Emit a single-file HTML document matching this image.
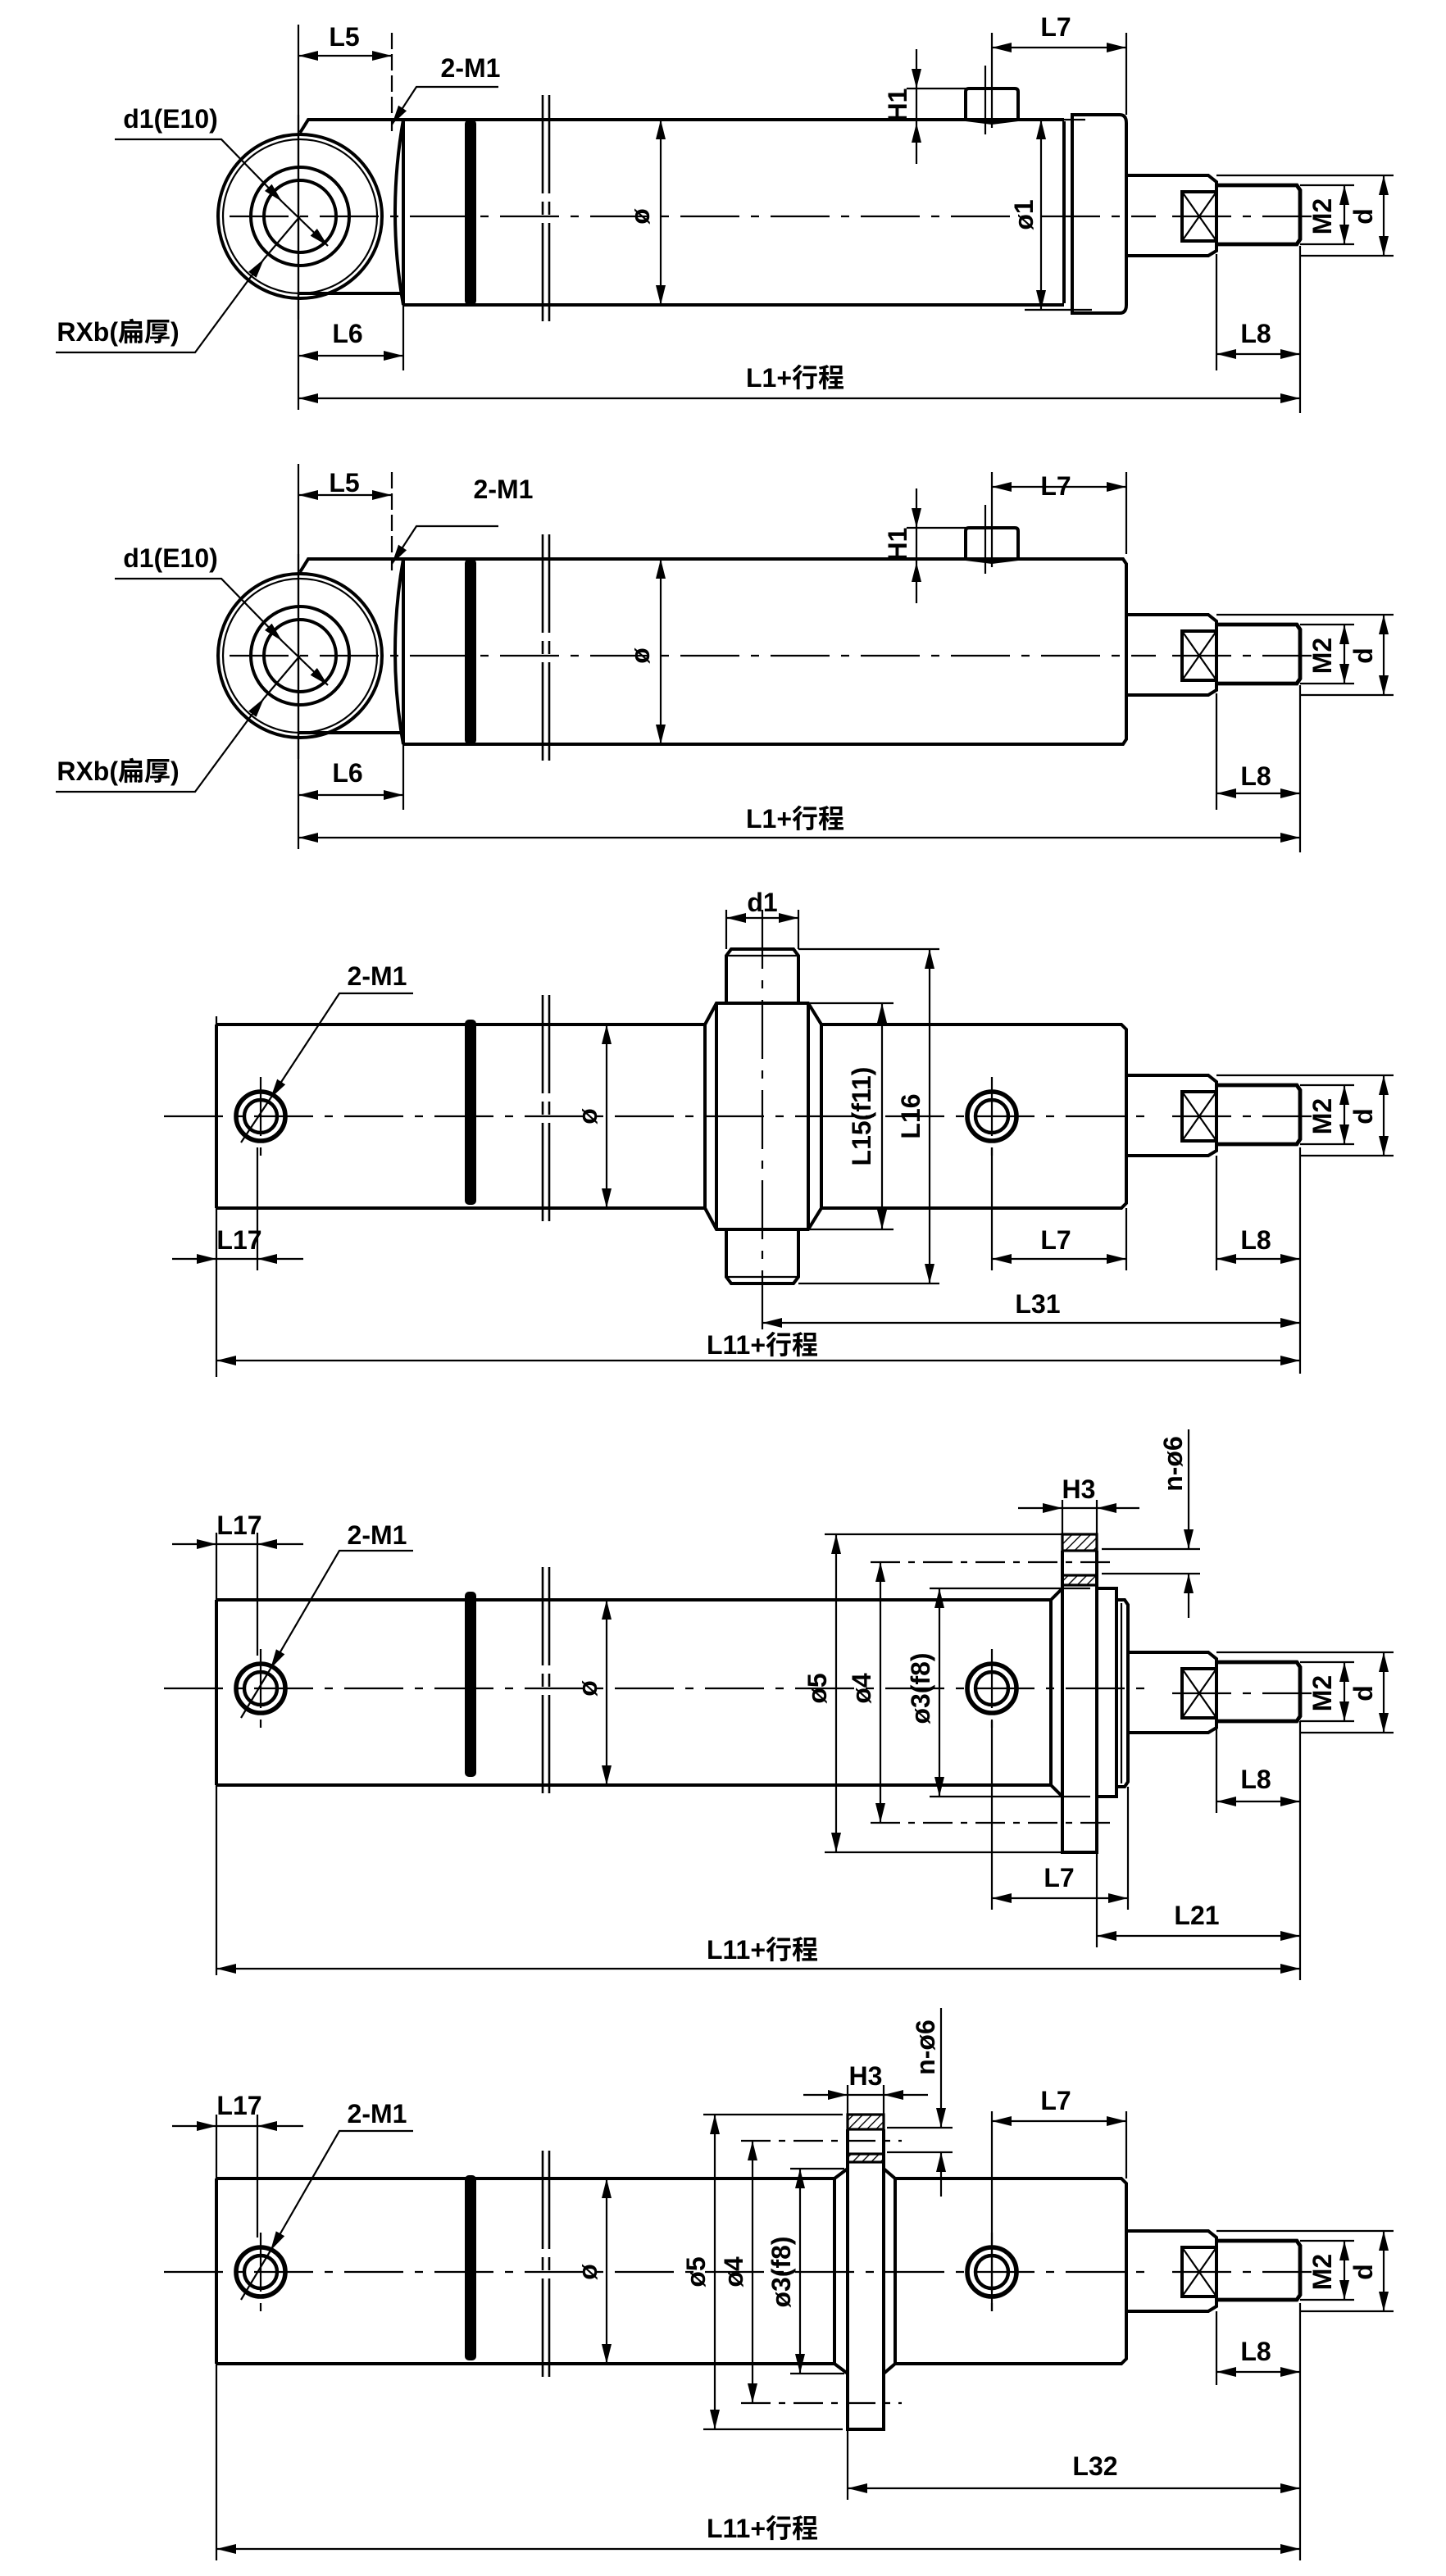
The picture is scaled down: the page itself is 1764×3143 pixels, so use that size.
<!DOCTYPE html>
<html><head><meta charset="utf-8">
<style>
html,body{margin:0;padding:0;background:#fff;}
svg{display:block;}
text{font-family:"Liberation Sans","Noto Sans CJK SC",sans-serif;font-weight:bold;font-size:16px;fill:#000;}
.o{stroke:#000;stroke-width:2;fill:none;}
.t{stroke:#000;stroke-width:1.1;fill:none;}
.c{stroke:#000;stroke-width:1.1;fill:none;stroke-dasharray:36 7 5 7;}
.dd{stroke:#000;stroke-width:1.1;fill:none;stroke-dasharray:18 5 4 5;}
.d{stroke:#000;stroke-width:1.1;fill:none;marker-start:url(#a);marker-end:url(#a);}
.e{stroke:#000;stroke-width:1.1;fill:none;marker-end:url(#a);}
</style></head><body>
<svg width="1764" height="3143" viewBox="0 0 882 1571.5" preserveAspectRatio="none" xmlns="http://www.w3.org/2000/svg">
<defs>
<marker id="a" markerUnits="userSpaceOnUse" markerWidth="12" markerHeight="6" refX="12" refY="3" orient="auto-start-reverse"><path d="M0,0 L12,3 L0,6 z" fill="#000"/></marker>
<pattern id="h" width="4" height="4" patternUnits="userSpaceOnUse" patternTransform="rotate(45)"><line x1="0" y1="0" x2="0" y2="4" stroke="#000" stroke-width="1.4"/></pattern>
<g id="rod">
<path class="o" d="M687,-25 L737,-25 L742,-21 L742,21 L737,24 L687,24"/>
<path d="M742,-19 L791,-19 L793,-16 L793,14 L791,17 L742,17" stroke="#000" stroke-width="2.4" fill="none"/>
<rect class="o" x="721" y="-15" width="21" height="30"/>
<path class="t" d="M721,-15 L742,15 M742,-15 L721,15"/>
<path class="t" d="M742,-25 L850,-25 M793,24 L850,24 M793,-19 L826,-19 M793,17 L826,17"/>
<line class="d" x1="844" y1="-25" x2="844" y2="24"/>
<line class="d" x1="820" y1="-19" x2="820" y2="17"/>
<line class="c" x1="715" y1="0" x2="800" y2="0"/>
</g>
<g id="port">
<circle cx="0" cy="0" r="15" stroke="#000" stroke-width="2.8" fill="none"/>
<circle cx="0" cy="0" r="10" stroke="#000" stroke-width="2.2" fill="none"/>
<line class="c" x1="0" y1="-24" x2="0" y2="24"/>
</g>
<g id="brk">
<line stroke="#000" stroke-width="1.3" stroke-dasharray="60 5 8 5" x1="331" y1="-74" x2="331" y2="66"/>
<line stroke="#000" stroke-width="1.3" stroke-dasharray="60 5 8 5" x1="335" y1="-74" x2="335" y2="66"/>
<rect x="283.5" y="-59" width="7" height="113" rx="2.5" fill="#000"/>
</g>
<g id="eyeview">
<line class="t" x1="182" y1="15" x2="182" y2="250"/>
<line class="t" x1="239" y1="20" x2="239" y2="80" stroke-dasharray="10 3"/>
<line class="d" x1="182" y1="34" x2="239" y2="34"/>
<path class="o" d="M183,81 L188,73 L246,73 M246,73 Q236,130 246,186 M182,179 L245,179"/>
<circle cx="183" cy="132" r="50" class="o"/>
<circle cx="183" cy="132" r="47" class="t"/>
<circle cx="183" cy="132" r="30" class="o"/>
<circle cx="183" cy="132" r="22" class="o"/>
<path class="t" d="M182,70 L182,195"/>
<path class="e" d="M304,53 L254,53 L239,76"/>
<path class="e" d="M70,85 L135,85 L172,123"/>
<path class="e" d="M172,123 L200,150"/>
<path class="e" d="M34,215 L119,215 L161,158"/>
<line class="t" x1="161" y1="158" x2="183" y2="132"/>
<path class="o" d="M246,73 L246,186"/>
<use href="#brk" y="132"/>
<line class="d" x1="403" y1="73" x2="403" y2="186"/>
<line class="c" x1="140" y1="132" x2="705" y2="132"/>
<path class="o" d="M589,73 L589,56 Q589,54 591,54 L619,54 Q621,54 621,56 L621,73 L605,75 Z"/>
<line class="t" x1="601" y1="40" x2="601" y2="82"/>
<path class="t" d="M553,54 L589,54"/>
<line class="e" x1="559" y1="30" x2="559" y2="54"/>
<line class="e" x1="559" y1="100" x2="559" y2="75"/>
<line class="t" x1="559" y1="54" x2="559" y2="75"/>
<line class="t" x1="605" y1="20" x2="605" y2="78"/>
<line class="t" x1="687" y1="20" x2="687" y2="70"/>
<line class="d" x1="605" y1="29" x2="687" y2="29"/>
<line class="t" x1="246" y1="186" x2="246" y2="226"/>
<line class="d" x1="182" y1="217" x2="246" y2="217"/>
<line class="t" x1="742" y1="155" x2="742" y2="226"/>
<line class="t" x1="793" y1="150" x2="793" y2="252"/>
<line class="d" x1="742" y1="216" x2="793" y2="216"/>
<line class="d" x1="182" y1="243" x2="793" y2="243"/>
<use href="#rod" y="132"/>
</g>
</defs>

<use href="#eyeview"/>
<path class="o" d="M246,73 L649,73 M246,186 L649,186"/>
<path class="o" d="M649,74 L649,185"/>
<path class="o" d="M654,70 L683,70 Q687,70 687,75 L687,186 Q687,191 683,191 L654,191 Z"/>
<path class="t" d="M630,73 L662,73 M625,189 L666,189"/>
<line class="d" x1="635" y1="73" x2="635" y2="189"/>
<text x="210" y="28" text-anchor="middle">L5</text>
<text x="287" y="47" text-anchor="middle">2-M1</text>
<text x="104" y="78" text-anchor="middle">d1(E10)</text>
<text x="72" y="208" text-anchor="middle">RXb(扁厚)</text>
<text x="212" y="209" text-anchor="middle">L6</text>
<text x="766" y="209" text-anchor="middle">L8</text>
<text x="485" y="236" text-anchor="middle">L1+行程</text>
<text x="644" y="22" text-anchor="middle">L7</text>
<text transform="translate(553,64) rotate(-90)" text-anchor="middle">H1</text>
<text transform="translate(396,132) rotate(-90)" text-anchor="middle">ø</text>
<text transform="translate(630,131) rotate(-90)" text-anchor="middle">ø1</text>
<text transform="translate(812,132) rotate(-90)" text-anchor="middle">M2</text>
<text transform="translate(837,132) rotate(-90)" text-anchor="middle">d</text>

<g transform="translate(0,268)">
<use href="#eyeview"/>
<path class="o" d="M246,73 L685,73 L687,76 L687,183 L685,186 L246,186"/>
<text x="210" y="32" text-anchor="middle">L5</text>
<text x="307" y="36" text-anchor="middle">2-M1</text>
<text x="104" y="78" text-anchor="middle">d1(E10)</text>
<text x="72" y="208" text-anchor="middle">RXb(扁厚)</text>
<text x="212" y="209" text-anchor="middle">L6</text>
<text x="766" y="211" text-anchor="middle">L8</text>
<text x="485" y="237" text-anchor="middle">L1+行程</text>
<text x="644" y="34" text-anchor="middle">L7</text>
<text transform="translate(553,64) rotate(-90)" text-anchor="middle">H1</text>
<text transform="translate(396,132) rotate(-90)" text-anchor="middle">ø</text>
<text transform="translate(812,132) rotate(-90)" text-anchor="middle">M2</text>
<text transform="translate(837,132) rotate(-90)" text-anchor="middle">d</text>
</g>

<g>
<path class="o" d="M132,625 L430,625 M132,737 L430,737 M132,625 L132,737"/>
<path class="o" d="M501,625 L684,625 L687,628 L687,734 L684,737 L501,737"/>
<path class="o" d="M430,625 L437,612 L493,612 L501,625 L501,737 L493,750 L437,750 L430,737 Z M437,612 L437,750 M493,612 L493,750"/>
<path class="o" d="M443,612 L443,583 L446,579 L484,579 L487,583 L487,612 M443,750 L443,779 L446,783 L484,783 L487,779 L487,750"/>
<path class="t" d="M443,583 L487,583 M443,779 L487,779"/>
<line class="c" x1="465" y1="555" x2="465" y2="812"/>
<use href="#brk" y="681"/>
<line class="d" x1="370" y1="625" x2="370" y2="737"/>
<line class="c" x1="100" y1="681" x2="705" y2="681"/>
<use href="#port" x="159" y="681"/>
<use href="#port" x="605" y="681"/>
<path class="t" d="M443,555 L443,579 M487,555 L487,579"/>
<line class="d" x1="443" y1="560" x2="487" y2="560"/>
<path class="t" d="M494,612 L545,612 M494,750 L545,750 M487,579 L573,579 M487,783 L573,783"/>
<line class="d" x1="538" y1="612" x2="538" y2="750"/>
<line class="d" x1="567" y1="579" x2="567" y2="783"/>
<path class="e" d="M252,606 L207,606 L165,670"/>
<line class="t" x1="165" y1="670" x2="147" y2="697"/>
<line class="t" x1="132" y1="620" x2="132" y2="840"/>
<line class="t" x1="157" y1="700" x2="157" y2="775"/>
<line class="e" x1="105" y1="768" x2="132" y2="768"/>
<line class="e" x1="185" y1="768" x2="157" y2="768"/>
<line class="t" x1="132" y1="768" x2="157" y2="768"/>
<line class="t" x1="605" y1="700" x2="605" y2="775"/>
<line class="t" x1="687" y1="737" x2="687" y2="775"/>
<line class="d" x1="605" y1="768" x2="687" y2="768"/>
<line class="t" x1="742" y1="705" x2="742" y2="775"/>
<line class="t" x1="793" y1="700" x2="793" y2="838"/>
<line class="d" x1="742" y1="768" x2="793" y2="768"/>
<line class="d" x1="465" y1="807" x2="793" y2="807"/>
<line class="d" x1="132" y1="830" x2="793" y2="830"/>
<use href="#rod" y="681"/>
<text x="465" y="556" text-anchor="middle">d1</text>
<text x="230" y="601" text-anchor="middle">2-M1</text>
<text x="146" y="762" text-anchor="middle">L17</text>
<text x="644" y="762" text-anchor="middle">L7</text>
<text x="766" y="762" text-anchor="middle">L8</text>
<text x="633" y="801" text-anchor="middle">L31</text>
<text x="465" y="826" text-anchor="middle">L11+行程</text>
<text transform="translate(531,681) rotate(-90)" text-anchor="middle">L15(f11)</text>
<text transform="translate(561,681) rotate(-90)" text-anchor="middle">L16</text>
<text transform="translate(364,681) rotate(-90)" text-anchor="middle">ø</text>
<text transform="translate(812,681) rotate(-90)" text-anchor="middle">M2</text>
<text transform="translate(837,681) rotate(-90)" text-anchor="middle">d</text>
</g>

<g>
<path class="o" d="M132,976 L641,976 L648,969 M132,1089 L641,1089 L648,1096 M132,976 L132,1089 M641,976 L641,1089"/>
<rect x="648" y="936" width="21" height="10" fill="url(#h)" stroke="#000" stroke-width="1.6"/>
<rect x="648" y="961" width="21" height="6" fill="url(#h)" stroke="#000" stroke-width="1.6"/>
<path class="o" d="M648,946 L648,1130 L669,1130 L669,946"/>
<path class="o" d="M669,969 L681,969 L681,1096 L669,1096"/>
<path class="o" d="M681,976 L686,976 L688,979 L688,1087 L686,1090 L681,1090"/>
<line class="t" x1="684" y1="978" x2="684" y2="1088"/>
<use href="#brk" y="1030"/>
<line class="d" x1="370" y1="976" x2="370" y2="1089"/>
<line class="c" x1="100" y1="1030" x2="705" y2="1030"/>
<use href="#port" x="159" y="1030"/>
<use href="#port" x="605" y="1030"/>
<path class="t" d="M503,936 L648,936 M503,1130 L648,1130 M567,969 L665,969 M567,1096 L665,1096"/>
<line class="dd" x1="531" y1="953" x2="678" y2="953"/>
<line class="dd" x1="531" y1="1112" x2="678" y2="1112"/>
<line class="d" x1="510" y1="936" x2="510" y2="1130"/>
<line class="d" x1="537" y1="953" x2="537" y2="1112"/>
<line class="d" x1="573" y1="969" x2="573" y2="1096"/>
<path class="t" d="M648,915 L648,936 M669,915 L669,936"/>
<line class="e" x1="621" y1="920" x2="648" y2="920"/>
<line class="e" x1="695" y1="920" x2="669" y2="920"/>
<line class="t" x1="648" y1="920" x2="669" y2="920"/>
<path class="t" d="M672,945 L732,945 M672,960 L732,960"/>
<line class="e" x1="725" y1="872" x2="725" y2="945"/>
<line class="e" x1="725" y1="987" x2="725" y2="960"/>
<line class="t" x1="132" y1="935" x2="132" y2="1205"/>
<line class="t" x1="157" y1="935" x2="157" y2="1010"/>
<line class="e" x1="105" y1="942" x2="132" y2="942"/>
<line class="e" x1="185" y1="942" x2="157" y2="942"/>
<line class="t" x1="132" y1="942" x2="157" y2="942"/>
<path class="e" d="M252,946 L207,946 L165,1018"/>
<line class="t" x1="165" y1="1018" x2="147" y2="1048"/>
<line class="t" x1="605" y1="1050" x2="605" y2="1165"/>
<line class="t" x1="688" y1="1090" x2="688" y2="1165"/>
<line class="d" x1="605" y1="1158" x2="688" y2="1158"/>
<line class="t" x1="669" y1="1130" x2="669" y2="1188"/>
<line class="d" x1="669" y1="1181" x2="793" y2="1181"/>
<line class="t" x1="742" y1="1055" x2="742" y2="1106"/>
<line class="t" x1="793" y1="1050" x2="793" y2="1208"/>
<line class="d" x1="742" y1="1099" x2="793" y2="1099"/>
<line class="d" x1="132" y1="1201" x2="793" y2="1201"/>
<use href="#rod" y="1033"/>
<text x="658" y="914" text-anchor="middle">H3</text>
<text transform="translate(721,893) rotate(-90)" text-anchor="middle">n-ø6</text>
<text x="146" y="936" text-anchor="middle">L17</text>
<text x="230" y="942" text-anchor="middle">2-M1</text>
<text transform="translate(504,1030) rotate(-90)" text-anchor="middle">ø5</text>
<text transform="translate(531,1030) rotate(-90)" text-anchor="middle">ø4</text>
<text transform="translate(567,1030) rotate(-90)" text-anchor="middle">ø3(f8)</text>
<text transform="translate(364,1030) rotate(-90)" text-anchor="middle">ø</text>
<text transform="translate(812,1033) rotate(-90)" text-anchor="middle">M2</text>
<text transform="translate(837,1033) rotate(-90)" text-anchor="middle">d</text>
<text x="766" y="1091" text-anchor="middle">L8</text>
<text x="646" y="1151" text-anchor="middle">L7</text>
<text x="730" y="1174" text-anchor="middle">L21</text>
<text x="465" y="1195" text-anchor="middle">L11+行程</text>
</g>

<g>
<path class="o" d="M132,1329 L509,1329 L517,1323 M132,1442 L509,1442 L517,1448 M132,1329 L132,1442 M509,1329 L509,1442"/>
<path class="o" d="M539,1323 L546,1329 L684,1329 L687,1332 L687,1439 L684,1442 L546,1442 L539,1448 M546,1329 L546,1442"/>
<rect x="517" y="1290" width="22" height="9" fill="url(#h)" stroke="#000" stroke-width="1.6"/>
<rect x="517" y="1314" width="22" height="5" fill="url(#h)" stroke="#000" stroke-width="1.6"/>
<path class="o" d="M517,1299 L517,1482 L539,1482 L539,1299"/>
<use href="#brk" y="1386"/>
<line class="d" x1="370" y1="1329" x2="370" y2="1442"/>
<line class="c" x1="100" y1="1386" x2="705" y2="1386"/>
<use href="#port" x="159" y="1386"/>
<use href="#port" x="605" y="1386"/>
<path class="t" d="M429,1290 L514,1290 M429,1482 L514,1482 M482,1323 L515,1323 M482,1448 L515,1448"/>
<line class="dd" x1="452" y1="1306" x2="550" y2="1306"/>
<line class="dd" x1="452" y1="1466" x2="550" y2="1466"/>
<line class="d" x1="436" y1="1290" x2="436" y2="1482"/>
<line class="d" x1="459" y1="1306" x2="459" y2="1466"/>
<line class="d" x1="488" y1="1323" x2="488" y2="1448"/>
<path class="t" d="M517,1272 L517,1290 M539,1272 L539,1290"/>
<line class="e" x1="490" y1="1278" x2="517" y2="1278"/>
<line class="e" x1="566" y1="1278" x2="539" y2="1278"/>
<line class="t" x1="517" y1="1278" x2="539" y2="1278"/>
<path class="t" d="M541,1298 L581,1298 M541,1313 L581,1313"/>
<line class="e" x1="574" y1="1225" x2="574" y2="1298"/>
<line class="e" x1="574" y1="1340" x2="574" y2="1313"/>
<line class="t" x1="605" y1="1288" x2="605" y2="1410"/>
<line class="t" x1="687" y1="1288" x2="687" y2="1329"/>
<line class="d" x1="605" y1="1294" x2="687" y2="1294"/>
<line class="t" x1="132" y1="1290" x2="132" y2="1562"/>
<line class="t" x1="157" y1="1290" x2="157" y2="1365"/>
<line class="e" x1="105" y1="1297" x2="132" y2="1297"/>
<line class="e" x1="185" y1="1297" x2="157" y2="1297"/>
<line class="t" x1="132" y1="1297" x2="157" y2="1297"/>
<path class="e" d="M252,1300 L207,1300 L165,1373"/>
<line class="t" x1="165" y1="1373" x2="147" y2="1403"/>
<line class="t" x1="517" y1="1482" x2="517" y2="1525"/>
<line class="d" x1="517" y1="1518" x2="793" y2="1518"/>
<line class="t" x1="742" y1="1410" x2="742" y2="1455"/>
<line class="t" x1="793" y1="1405" x2="793" y2="1562"/>
<line class="d" x1="742" y1="1447" x2="793" y2="1447"/>
<line class="d" x1="132" y1="1555" x2="793" y2="1555"/>
<use href="#rod" y="1386"/>
<text x="528" y="1272" text-anchor="middle">H3</text>
<text transform="translate(570,1249) rotate(-90)" text-anchor="middle">n-ø6</text>
<text x="644" y="1287" text-anchor="middle">L7</text>
<text x="146" y="1290" text-anchor="middle">L17</text>
<text x="230" y="1295" text-anchor="middle">2-M1</text>
<text transform="translate(430,1386) rotate(-90)" text-anchor="middle">ø5</text>
<text transform="translate(453,1386) rotate(-90)" text-anchor="middle">ø4</text>
<text transform="translate(482,1386) rotate(-90)" text-anchor="middle">ø3(f8)</text>
<text transform="translate(364,1386) rotate(-90)" text-anchor="middle">ø</text>
<text transform="translate(812,1386) rotate(-90)" text-anchor="middle">M2</text>
<text transform="translate(837,1386) rotate(-90)" text-anchor="middle">d</text>
<text x="766" y="1440" text-anchor="middle">L8</text>
<text x="668" y="1510" text-anchor="middle">L32</text>
<text x="465" y="1548" text-anchor="middle">L11+行程</text>
</g>
</svg>
</body></html>
